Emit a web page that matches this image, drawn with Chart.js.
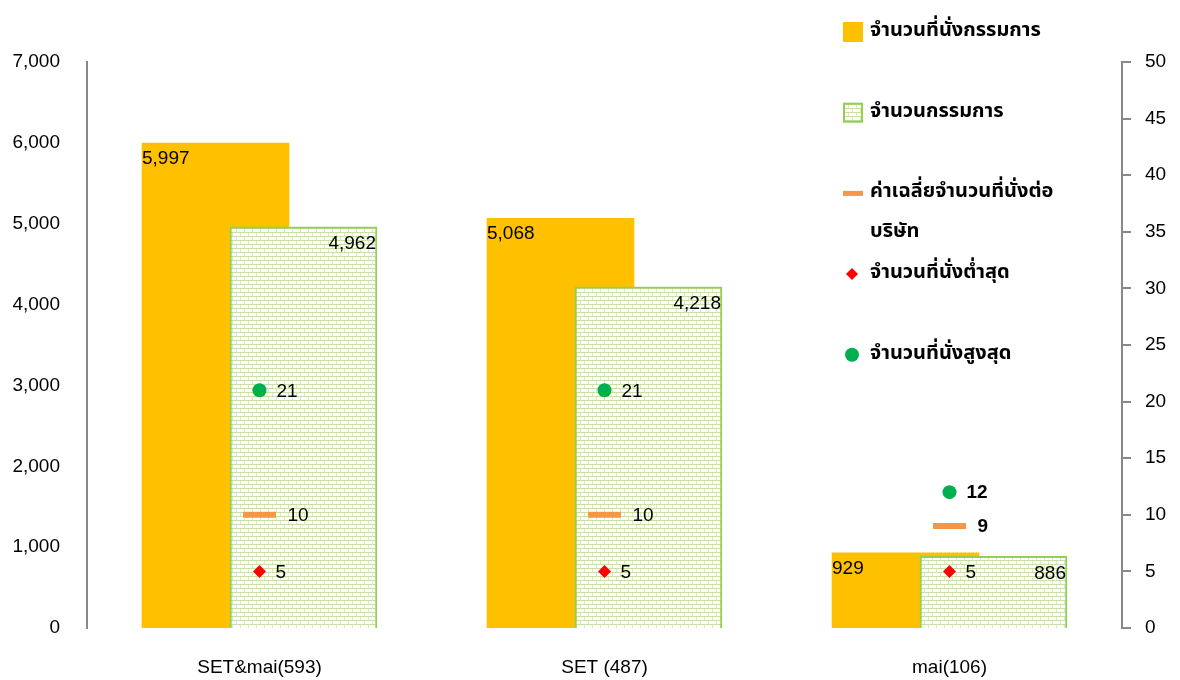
<!DOCTYPE html>
<html><head><meta charset="utf-8">
<script src="https://cdn.jsdelivr.net/npm/chart.js@4.4.1/dist/chart.umd.min.js"></script>
<style>html,body{margin:0;padding:0;background:#fff;}canvas{display:block;}</style>
</head><body>
<canvas id="c" width="1180" height="680"></canvas>
<script>
// ---- data ----
const categories = ['SET&mai(593)', 'SET (487)', 'mai(106)'];
const seatCounts = [5997, 5068, 929];          // จำนวนที่นั่งกรรมการ (left axis)
const directorCounts = [4962, 4218, 886];      // จำนวนกรรมการ (left axis)
const avgSeats = [10, 10, 9];                  // right axis
const minSeats = [5, 5, 5];
const maxSeats = [21, 21, 12];
const leftTickValues = [0, 1000, 2000, 3000, 4000, 5000, 6000, 7000];
const rightTickValues = [0, 5, 10, 15, 20, 25, 30, 35, 40, 45, 50];
const seriesLabels = ['จำนวนที่นั่งกรรมการ', 'จำนวนกรรมการ', 'ค่าเฉลี่ยจำนวนที่นั่งต่อบริษัท', 'จำนวนที่นั่งต่ำสุด', 'จำนวนที่นั่งสูงสุด'];
const legendLines = [['จำนวนที่นั่งกรรมการ'], ['จำนวนกรรมการ'], ['ค่าเฉลี่ยจำนวนที่นั่งต่อ', 'บริษัท'], ['จำนวนที่นั่งต่ำสุด'], ['จำนวนที่นั่งสูงสุด']];

// ---- styles ----
const ORANGE = '#FFC000', GREEN_BORDER = '#92D050', AVG = '#F79646', MIN = '#FF0000', MAX = '#00B050';
const AXIS = '#888888';
const NUM_FONT = '"Liberation Sans", Arial, sans-serif';
const THAI_FONT = '"Noto Sans Thai", "Noto Sans", "DejaVu Sans", sans-serif';
const SHIFT = 0.1275;

const ctx = document.getElementById('c').getContext('2d');
function brickPattern() {
  const c = document.createElement('canvas'); c.width = 8; c.height = 8;
  const g = c.getContext('2d');
  g.fillStyle = '#ffffff'; g.fillRect(0, 0, 8, 8);
  g.fillStyle = '#c8e0a6'; g.fillRect(0, 0, 8, 1); g.fillRect(0, 4, 8, 1);
  g.fillStyle = '#d9e9c4'; g.fillRect(0, 1, 1, 3); g.fillRect(4, 5, 1, 3);
  return ctx.createPattern(c, 'repeat');
}
const BRICK = brickPattern();
const fmt = v => v.toLocaleString('en-US');

const valueLabels = {
  id: 'valueLabels',
  afterDatasetsDraw(chart) {
    const c = chart.ctx; c.save();
    c.fillStyle = '#000'; c.textBaseline = 'middle';
    c.font = '19px ' + NUM_FONT;
    const greenMeta = chart.getDatasetMeta(1);
    chart.getDatasetMeta(0).data.forEach((el, i) => {
      c.textAlign = 'left'; c.fillText(fmt(seatCounts[i]), el.x - el.width / 2, el.y + 16);
    });
    greenMeta.data.forEach((el, i) => {
      c.textAlign = 'right'; c.fillText(fmt(directorCounts[i]), el.x + el.width / 2 - 1, el.y + 17);
    });
    const sets = [[2, avgSeats, 28], [3, minSeats, 16], [4, maxSeats, 17]];
    sets.forEach(([di, vals, off]) => {
      chart.getDatasetMeta(di).data.forEach((el, i) => {
        const outside = el.y < greenMeta.data[i].y;
        c.font = (outside ? 'bold ' : '') + '19px ' + NUM_FONT;
        c.textAlign = 'left';
        c.fillText(String(vals[i]), el.x + off, el.y + 1);
      });
    });
    c.restore();
  }
};

const customLegend = {
  id: 'customLegend',
  afterDraw(chart) {
    const c = chart.ctx; c.save();
    const x0 = 843, tx = 870, step = 80.7, y0 = 32;
    c.font = 'bold 20px ' + THAI_FONT; c.fillStyle = '#000'; c.textBaseline = 'middle'; c.textAlign = 'left';
    legendLines.forEach((lines, k) => {
      const cy = y0 + step * k;
      if (k === 0) { c.fillStyle = ORANGE; c.fillRect(x0, cy - 10, 20, 20); }
      if (k === 1) { c.fillStyle = BRICK; c.fillRect(x0, cy - 10, 20, 20); c.strokeStyle = GREEN_BORDER; c.lineWidth = 2; c.strokeRect(x0 + 1, cy - 9, 18, 18); }
      if (k === 2) { c.fillStyle = AVG; c.fillRect(x0, cy - 2.5, 20, 5); }
      if (k === 3) { c.fillStyle = MIN; c.beginPath(); c.moveTo(x0 + 9, cy - 6); c.lineTo(x0 + 15, cy); c.lineTo(x0 + 9, cy + 6); c.lineTo(x0 + 3, cy); c.closePath(); c.fill(); }
      if (k === 4) { c.fillStyle = MAX; c.beginPath(); c.arc(x0 + 9, cy, 7, 0, Math.PI * 2); c.fill(); }
      c.fillStyle = '#000';
      lines.forEach((ln, j) => c.fillText(ln, tx, cy + j * 40));
    });
    c.restore();
  }
};

new Chart(ctx, {
  type: 'bar',
  data: {
    datasets: [
      { label: seriesLabels[0], data: seatCounts.map((v, i) => ({ x: i - SHIFT, y: v })), backgroundColor: ORANGE, borderWidth: 0, barThickness: 147, grouped: false, yAxisID: 'y', order: 2 },
      { label: seriesLabels[1], data: directorCounts.map((v, i) => ({ x: i + SHIFT, y: v })), backgroundColor: BRICK, borderColor: GREEN_BORDER, borderWidth: 2, barThickness: 147, grouped: false, yAxisID: 'y', order: 1 },
      { type: 'line', label: seriesLabels[2], data: avgSeats.map((v, i) => ({ x: i, y: v })), showLine: false, pointStyle: 'line', pointRadius: 16.5, borderColor: AVG, backgroundColor: AVG, pointBorderWidth: 6, yAxisID: 'y1', order: 0 },
      { type: 'line', label: seriesLabels[3], data: minSeats.map((v, i) => ({ x: i, y: v })), showLine: false, pointStyle: 'rectRot', pointRadius: 6.5, borderColor: MIN, backgroundColor: MIN, pointBorderWidth: 0, yAxisID: 'y1', order: 0 },
      { type: 'line', label: seriesLabels[4], data: maxSeats.map((v, i) => ({ x: i, y: v })), showLine: false, pointStyle: 'circle', pointRadius: 7, borderColor: MAX, backgroundColor: MAX, pointBorderWidth: 0, yAxisID: 'y1', order: 0 }
    ]
  },
  options: {
    responsive: false, animation: false, devicePixelRatio: 1,
    layout: { padding: { top: 62, left: 0, right: 0, bottom: 0 } },
    plugins: { legend: { display: false }, tooltip: { enabled: false } },
    scales: {
      x: {
        type: 'linear', min: -0.5, max: 2.5, offset: false,
        afterBuildTicks: ax => { ax.ticks = categories.map((_, i) => ({ value: i })); },
        afterFit: ax => { ax.height = 52; },
        ticks: { callback: v => categories[v], font: { family: NUM_FONT, size: 19 }, color: '#000', padding: 28, autoSkip: false, maxRotation: 0 },
        grid: { display: false, drawTicks: false, offset: false }, border: { display: false }
      },
      y: {
        position: 'left', min: 0, max: 7000,
        afterBuildTicks: ax => { ax.ticks = leftTickValues.map(v => ({ value: v })); },
        afterFit: ax => { ax.width = 87; },
        ticks: { callback: v => fmt(v), font: { family: NUM_FONT, size: 19 }, color: '#000', padding: 27 },
        grid: { display: false, drawTicks: false }, border: { display: true, color: AXIS, width: 2 }
      },
      y1: {
        position: 'right', min: 0, max: 50,
        afterBuildTicks: ax => { ax.ticks = rightTickValues.map(v => ({ value: v })); },
        afterFit: ax => { ax.width = 58; },
        ticks: { font: { family: NUM_FONT, size: 19 }, color: '#000', padding: 14 },
        grid: { drawOnChartArea: false, drawTicks: true, tickLength: 9, color: AXIS, lineWidth: 2 },
        border: { display: true, color: AXIS, width: 2 }
      }
    }
  },
  plugins: [valueLabels, customLegend]
});
</script>
</body></html>
